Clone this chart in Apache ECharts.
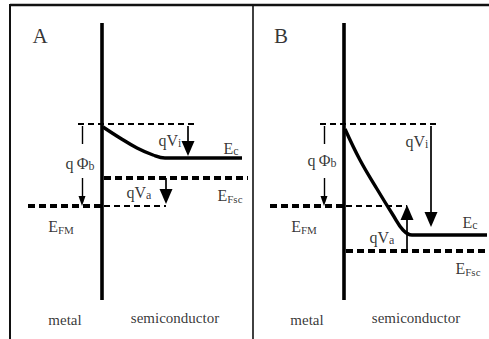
<!DOCTYPE html>
<html><head><meta charset="utf-8">
<script src="https://cdn.jsdelivr.net/npm/echarts@6/dist/echarts.min.js"></script>
<style>html,body{margin:0;padding:0;background:#fff}#c{width:489px;height:339px}</style>
</head><body><div id="c"></div>
<script>
// ---- data (panel A, panel B) ----
const panelNames = ['A', 'B'];
const interfaceX = [102, 344];
const interfaceTop = [23, 23];
const interfaceBottom = [300, 300];
const barrierTop = [124, 124];
const barrierLineStart = [78, 320];
const barrierLineEnd = [197, 440];
const efmLevel = [206, 206];
const efmStart = [28, 270];
const efscLevel = [178, 251];
const efscEnd = [248, 489];
const ecCurveA = [[103,127],[120,138],[137,148],[153,155],[165,158],[242,158]];
const ecCurveB = [[345,129],[360,160],[377,189],[393,215],[403,230],[412,235],[487,235]];
const phiX = [82, 324];
const phiUpperEnd = [144, 144];
const phiArrowStart = [178, 178];
const qviX = [188, 431];
const qviTip = [156, 227];
const qvaX = [166, 407];
const qvaTip = [204, 205];

const labelText = ['{big|A}', '{big|B}', '{t|metal}', '{t|semiconductor}', '{t|metal}', '{t|semiconductor}',
  '{m|q\u2009\u03A6}{s|b}', '{m|q\u2009\u03A6}{s|b}', '{m|qV}{s|i}', '{m|qV}{s|i}', '{m|qV}{s|a}', '{m|qV}{s|a}',
  '{m|E}{s|c}', '{m|E}{s|c}', '{m|E}{f|Fsc}', '{m|E}{f|Fsc}', '{m|E}{f|FM}', '{m|E}{f|FM}'];
const labelX = [40, 281, 65, 175, 307, 416, 80, 322, 170, 417, 139, 382, 231, 470, 230, 468, 61, 304];
const labelY = [36, 36, 320, 318, 320, 318, 163, 160, 140, 141, 192, 237, 148, 222, 195, 268, 226, 226];

const seg = (x1, y1, x2, y2) => ({ coords: [[x1, y1], [x2, y2]] });
const idx = [0, 1];

const solidThick = [];
idx.forEach(i => solidThick.push(seg(interfaceX[i], interfaceTop[i], interfaceX[i], interfaceBottom[i])));
const thinDash = [];
idx.forEach(i => {
  thinDash.push(seg(barrierLineStart[i], barrierTop[i], barrierLineEnd[i], barrierTop[i]));
  thinDash.push(seg(interfaceX[i] + 2, efmLevel[i], qvaX[i], efmLevel[i]));
});
const thickDash = [];
idx.forEach(i => {
  thickDash.push(seg(efmStart[i], efmLevel[i], interfaceX[i], efmLevel[i]));
  thickDash.push(seg(interfaceX[i] + 2, efscLevel[i], efscEnd[i], efscLevel[i]));
});
const thinSolid = [];
idx.forEach(i => {
  thinSolid.push(seg(phiX[i], barrierTop[i] + 2, phiX[i], phiUpperEnd[i]));
  thinSolid.push(seg(phiX[i], phiArrowStart[i], phiX[i], efmLevel[i] - 4));
});
const arrowShafts = [];
idx.forEach(i => {
  arrowShafts.push(seg(qviX[i], barrierTop[i] + 2, qviX[i], qviTip[i] - 6));
  arrowShafts.push(seg(qvaX[i], efscLevel[i], qvaX[i], qvaTip[i] + (qvaTip[i] > efscLevel[i] ? -6 : 6)));
});
const bigHeads = [];
idx.forEach(i => {
  bigHeads.push({ value: [qviX[i], qviTip[i]], down: true });
  bigHeads.push({ value: [qvaX[i], qvaTip[i]], down: qvaTip[i] > efscLevel[i] });
});
const smallHeads = idx.map(i => ({ value: [phiX[i], efmLevel[i]], down: true }));

const headItems = (list, h) => list.map(d => ({
  value: d.value, symbolRotate: d.down ? 180 : 0, symbolOffset: [0, d.down ? -h / 2 : h / 2]
}));

const F = 'Liberation Serif';
const linesSeries = (data, width, type) => ({
  type: 'lines', coordinateSystem: 'cartesian2d', data: data, silent: true,
  symbol: 'none', lineStyle: { color: '#000', width: width, type: type, opacity: 1, cap: 'butt' }
});

const chart = echarts.init(document.getElementById('c'), null, { renderer: 'svg' });
chart.setOption({
  animation: false,
  backgroundColor: '#fff',
  grid: { left: 0, top: 0, width: 489, height: 339, show: false },
  xAxis: { type: 'value', min: 0, max: 489, show: false },
  yAxis: { type: 'value', min: 0, max: 339, inverse: true, show: false },
  graphic: [
    { type: 'line', shape: { x1: 10, y1: 5, x2: 489, y2: 5 }, style: { stroke: '#111', lineWidth: 2.5 } },
    { type: 'line', shape: { x1: 10, y1: 4, x2: 10, y2: 339 }, style: { stroke: '#111', lineWidth: 2 } },
    { type: 'line', shape: { x1: 253, y1: 4, x2: 253, y2: 339 }, style: { stroke: '#111', lineWidth: 1.6 } }
  ],
  series: [
    linesSeries(solidThick, 3.6, 'solid'),
    linesSeries(thinDash, 1.8, [6, 4]),
    linesSeries(thickDash, 4, [7, 4]),
    linesSeries(thinSolid, 1.4, 'solid'),
    linesSeries(arrowShafts, 1.7, 'solid'),
    { type: 'scatter', symbol: 'triangle', symbolSize: [13, 15], silent: true,
      itemStyle: { color: '#000', opacity: 1 }, data: headItems(bigHeads, 15) },
    { type: 'scatter', symbol: 'triangle', symbolSize: [7, 10], silent: true,
      itemStyle: { color: '#000', opacity: 1 }, data: headItems(smallHeads, 10) },
    { type: 'line', data: ecCurveA, smooth: 0.4, showSymbol: false, silent: true,
      lineStyle: { color: '#000', width: 3.4 } },
    { type: 'line', data: ecCurveB, smooth: 0.4, showSymbol: false, silent: true,
      lineStyle: { color: '#000', width: 3.4 } },
    { type: 'scatter', symbolSize: 0, silent: true,
      data: labelX.map((x, i) => ({ value: [x, labelY[i]], label: { formatter: labelText[i] } })),
      label: { show: true, position: 'inside', color: '#000',
        rich: {
          big: { fontFamily: F, fontSize: 21, color: '#000' },
          t: { fontFamily: F, fontSize: 15, color: '#000' },
          m: { fontFamily: F, fontSize: 16, color: '#000', lineHeight: 18 },
          s: { fontFamily: F, fontSize: 12, color: '#000', verticalAlign: 'bottom', lineHeight: 12, padding: [8, 0, 0, 0] },
          f: { fontFamily: F, fontSize: 11, color: '#000', verticalAlign: 'bottom', lineHeight: 12, padding: [6, 0, 0, 0] }
        } } }
  ]
});
</script></body></html>
